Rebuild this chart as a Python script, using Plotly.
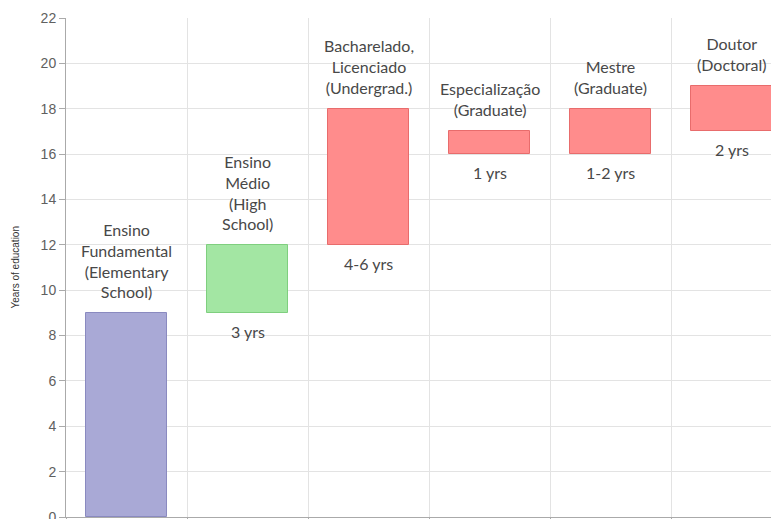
import plotly.graph_objects as go

# Data
categories = [
    "Ensino<br>Fundamental<br>(Elementary<br>School)",
    "Ensino<br>Médio<br>(High<br>School)",
    "Bacharelado,<br>Licenciado<br>(Undergrad.)",
    "Especialização<br>(Graduate)",
    "Mestre<br>(Graduate)",
    "Doutor<br>(Doctoral)",
]
start_years = [0, 9, 12, 16, 16, 17]
end_years = [9, 12, 18, 17, 18, 19]
duration_labels = ["", "3 yrs", "4-6 yrs", "1 yrs", "1-2 yrs", "2 yrs"]
fill_colors = ["#a9a9d6", "#a3e6a3", "#ff8c8c", "#ff8c8c", "#ff8c8c", "#ff8c8c"]
edge_colors = ["#8a8ac0", "#7fcf7f", "#e86c6c", "#e86c6c", "#e86c6c", "#e86c6c"]
y_ticks = list(range(0, 23, 2))

positions = list(range(len(categories)))
heights = [e - s for s, e in zip(start_years, end_years)]

fig = go.Figure()
fig.add_trace(go.Bar(
    x=positions,
    y=heights,
    base=start_years,
    width=0.67,
    marker=dict(color=fill_colors, line=dict(color=edge_colors, width=1)),
    hoverinfo="skip",
))

text_font = dict(family="Lato, 'Open Sans', sans-serif", size=16, color="#484848")
for p, name, s, e, d in zip(positions, categories, start_years, end_years, duration_labels):
    fig.add_annotation(x=p, y=e, xref="x", yref="y", text=name, showarrow=False,
                       yanchor="bottom", yshift=10, align="center", font=text_font)
    if d:
        fig.add_annotation(x=p, y=s, xref="x", yref="y", text=d, showarrow=False,
                           yanchor="top", yshift=-7, align="center", font=text_font)

fig.add_annotation(text="Years of education", xref="paper", yref="paper", x=0, y=0.5,
                   xshift=-51, xanchor="center", yanchor="middle", textangle=-90,
                   showarrow=False, font=dict(family="Arial, Liberation Sans, sans-serif", size=10, color="#333333"))

# The page body has an 8px default margin; margins below compensate for it.
fig.update_layout(
    width=779, height=519,
    margin=dict(l=58, r=8, t=10, b=10),
    plot_bgcolor="white", paper_bgcolor="white",
    showlegend=False,
    bargap=0,
    xaxis=dict(
        range=[-0.5, 5.392], tickmode="linear", tick0=0.5, dtick=1, automargin=False,
        showticklabels=False, showgrid=True, gridcolor="#e3e3e3", gridwidth=1,
        showline=True, linecolor="#aaaaaa", linewidth=1, zeroline=False,
        ticks="outside", ticklen=6, tickcolor="#aaaaaa",
    ),
    yaxis=dict(
        range=[0, 22], tickvals=y_ticks, automargin=False,
        showgrid=True, gridcolor="#e3e3e3", gridwidth=1,
        showline=True, linecolor="#aaaaaa", linewidth=1, zeroline=False,
        ticks="outside", ticklen=6, tickcolor="#aaaaaa",
        tickfont=dict(family="Arial, Liberation Sans, sans-serif", size=14, color="#606060"),
    ),
)

fig.write_html("out.html")
